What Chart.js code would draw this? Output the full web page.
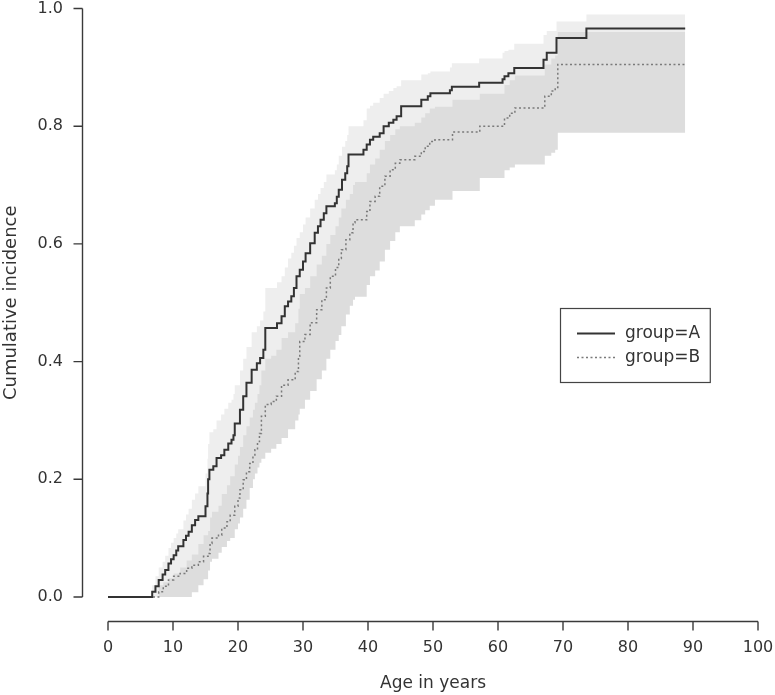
<!DOCTYPE html>
<html><head><meta charset="utf-8">
<script src="https://cdn.jsdelivr.net/npm/chart.js@4/dist/chart.umd.min.js"></script>
<style>
html,body{margin:0;padding:0;background:#fff;overflow:hidden;width:775px;height:695px;}
#wrap{position:absolute;left:0;top:-15px;}
</style></head><body>
<div id="wrap"><canvas id="c" width="784" height="710"></canvas></div>
<script>
const xTickValues = [0,10,20,30,40,50,60,70,80,90,100];
const yTickValues = [0,0.2,0.4,0.6,0.8,1.0];
const xTitle = 'Age in years';
const yTitle = 'Cumulative incidence';
const groupLabels = ['group=A','group=B'];

const ageA = [0,6.8,7.3,7.8,8.4,8.8,9.3,9.7,10.1,10.5,10.8,11.6,12.0,12.4,12.9,13.4,13.9,15.0,15.3,15.4,15.6,16.2,16.7,17.4,17.9,18.5,19.0,19.3,19.5,20.3,20.8,21.3,22.1,22.9,23.4,23.9,24.2,26.0,26.7,27.2,27.7,28.2,28.6,29.0,29.5,30.0,30.4,31.1,31.8,32.3,32.7,33.2,33.6,34.9,35.2,35.5,36.0,36.5,36.8,37.0,39.3,39.8,40.3,40.8,41.8,42.4,43.2,43.9,44.4,45.1,48.2,49.2,49.6,52.6,52.9,57.1,60.7,61.0,61.6,62.5,67.0,67.5,69.0,73.6,88.8];
const cumA = [0,0.009,0.018,0.029,0.038,0.046,0.057,0.064,0.071,0.079,0.086,0.097,0.104,0.111,0.122,0.131,0.137,0.154,0.176,0.2,0.216,0.222,0.236,0.241,0.25,0.261,0.267,0.275,0.295,0.318,0.341,0.364,0.386,0.397,0.406,0.42,0.457,0.465,0.477,0.494,0.502,0.511,0.525,0.545,0.556,0.57,0.584,0.601,0.619,0.63,0.641,0.652,0.664,0.669,0.68,0.692,0.709,0.72,0.732,0.752,0.76,0.769,0.777,0.782,0.788,0.8,0.806,0.811,0.817,0.834,0.845,0.851,0.856,0.861,0.867,0.874,0.88,0.885,0.89,0.899,0.913,0.925,0.95,0.966,0.966];
const upperA = [0,0.02,0.035,0.05,0.06,0.07,0.083,0.092,0.1,0.108,0.115,0.13,0.14,0.15,0.165,0.176,0.188,0.21,0.235,0.26,0.28,0.285,0.3,0.31,0.32,0.33,0.335,0.345,0.36,0.385,0.405,0.425,0.45,0.46,0.47,0.485,0.525,0.535,0.545,0.56,0.575,0.585,0.597,0.61,0.62,0.633,0.645,0.66,0.675,0.685,0.695,0.705,0.718,0.725,0.735,0.75,0.765,0.775,0.785,0.8,0.81,0.83,0.835,0.84,0.848,0.855,0.86,0.865,0.868,0.878,0.888,0.89,0.893,0.9,0.907,0.915,0.925,0.928,0.93,0.94,0.955,0.962,0.978,0.99,0.99];
const lowerA = [0,0,0,0.003,0.008,0.012,0.018,0.022,0.026,0.03,0.035,0.042,0.048,0.053,0.06,0.066,0.07,0.085,0.09,0.1,0.108,0.12,0.13,0.14,0.15,0.16,0.168,0.175,0.19,0.21,0.235,0.255,0.275,0.288,0.298,0.31,0.345,0.352,0.362,0.378,0.385,0.394,0.405,0.425,0.435,0.45,0.46,0.478,0.495,0.505,0.517,0.528,0.54,0.545,0.556,0.568,0.585,0.595,0.608,0.63,0.64,0.65,0.66,0.665,0.672,0.685,0.692,0.698,0.705,0.725,0.74,0.745,0.752,0.758,0.765,0.775,0.782,0.79,0.795,0.805,0.825,0.84,0.875,0.9,0.9];

const ageB = [0,7.8,8.5,9.3,10.1,11.1,12.1,12.9,13.9,14.7,15.4,15.7,16.0,17.0,17.5,18.3,18.8,19.5,20.0,20.3,20.8,21.3,21.8,22.3,22.6,23.0,23.3,23.6,24.2,25.1,25.9,26.7,27.7,28.8,29.3,29.5,30.3,31.1,32.1,32.9,33.6,34.2,35.0,35.5,35.9,36.6,37.2,37.7,38.0,39.8,40.3,41.1,41.8,42.6,43.4,44.2,44.9,47.2,48.2,48.8,49.5,50.3,53.0,57.2,61.0,61.8,62.6,67.2,68.2,68.8,69.2,88.8];
const cumB = [0,0.009,0.018,0.029,0.035,0.04,0.049,0.054,0.06,0.069,0.074,0.091,0.1,0.105,0.117,0.128,0.139,0.154,0.168,0.182,0.199,0.213,0.227,0.239,0.25,0.264,0.278,0.307,0.327,0.332,0.341,0.36,0.369,0.383,0.409,0.434,0.446,0.466,0.488,0.505,0.525,0.545,0.56,0.575,0.59,0.607,0.619,0.636,0.641,0.655,0.672,0.681,0.698,0.715,0.726,0.737,0.743,0.749,0.757,0.766,0.774,0.777,0.79,0.8,0.814,0.822,0.831,0.851,0.86,0.866,0.905,0.905];
const upperB = [0,0.02,0.025,0.032,0.04,0.05,0.062,0.072,0.09,0.105,0.112,0.135,0.145,0.155,0.175,0.19,0.205,0.225,0.24,0.255,0.275,0.29,0.305,0.318,0.33,0.345,0.36,0.385,0.405,0.41,0.42,0.44,0.45,0.465,0.49,0.515,0.525,0.545,0.565,0.58,0.6,0.615,0.63,0.645,0.66,0.675,0.685,0.7,0.705,0.72,0.735,0.745,0.76,0.775,0.785,0.795,0.8,0.806,0.815,0.822,0.83,0.833,0.845,0.855,0.87,0.878,0.886,0.905,0.915,0.92,0.96,0.96];
const lowerB = [0,0,0,0,0,0,0,0.008,0.02,0.03,0.045,0.06,0.065,0.075,0.085,0.095,0.1,0.115,0.125,0.135,0.15,0.165,0.185,0.2,0.21,0.22,0.228,0.235,0.245,0.252,0.26,0.27,0.285,0.3,0.31,0.32,0.335,0.35,0.37,0.385,0.405,0.42,0.435,0.445,0.46,0.48,0.495,0.505,0.51,0.53,0.545,0.555,0.57,0.59,0.605,0.62,0.63,0.64,0.65,0.657,0.665,0.675,0.69,0.712,0.725,0.73,0.735,0.75,0.755,0.76,0.789,0.789];

const FONT = 'DejaVu Sans';
const AXIS_COLOR = '#3a3a3a';
const pts = (xs, ys) => xs.map((x, i) => ({x: x, y: ys[i]}));
const bandStyle = (fill, color) => ({
  fill: fill, backgroundColor: color, borderColor: 'rgba(0,0,0,0)', borderWidth: 1,
  pointRadius: 0, stepped: true, tension: 0
});
const zeroPad = s => { s.paddingTop = 0; s.paddingBottom = 0; s.paddingLeft = 0; s.paddingRight = 0; };

const axesAndLegend = {
  id: 'axesAndLegend',
  afterDraw(chart) {
    const ctx = chart.ctx, xs = chart.scales.x, ys = chart.scales.y;
    const ax = Math.round(xs.getPixelForValue(-4)) + 0.5;
    const ay = Math.round(ys.getPixelForValue(-0.04)) + 0.5;
    const tick = 9;
    ctx.save();
    ctx.strokeStyle = AXIS_COLOR; ctx.lineWidth = 1.4; ctx.setLineDash([]);
    ctx.beginPath();
    ctx.moveTo(ax, ys.getPixelForValue(yTickValues[0]));
    ctx.lineTo(ax, ys.getPixelForValue(yTickValues[yTickValues.length-1]));
    yTickValues.forEach(v => { const p = ys.getPixelForValue(v); ctx.moveTo(ax, p); ctx.lineTo(ax - tick, p); });
    ctx.moveTo(xs.getPixelForValue(xTickValues[0]), ay);
    ctx.lineTo(xs.getPixelForValue(xTickValues[xTickValues.length-1]), ay);
    xTickValues.forEach(v => { const p = xs.getPixelForValue(v); ctx.moveTo(p, ay); ctx.lineTo(p, ay + tick); });
    ctx.stroke();

    // legend
    ctx.font = '17px "' + FONT + '"';
    const tw = Math.max(...groupLabels.map(t => ctx.measureText(t).width));
    const bx = 560.5, by = 308.5 + 15, textX = 625;
    const bw = textX + tw + 10 - bx, bh = 74;
    ctx.lineWidth = 1.2; ctx.strokeStyle = '#444';
    ctx.strokeRect(bx, by, bw, bh);
    const rows = [by + 25, by + 49];
    ctx.lineWidth = 2; ctx.strokeStyle = '#333';
    ctx.beginPath(); ctx.moveTo(577, rows[0]); ctx.lineTo(615, rows[0]); ctx.stroke();
    ctx.lineWidth = 1.5; ctx.strokeStyle = '#7a7a7a'; ctx.setLineDash([2, 2.5]);
    ctx.beginPath(); ctx.moveTo(577, rows[1]); ctx.lineTo(615, rows[1]); ctx.stroke();
    ctx.setLineDash([]);
    ctx.fillStyle = '#333'; ctx.textAlign = 'left'; ctx.textBaseline = 'middle';
    groupLabels.forEach((t, i) => ctx.fillText(t, textX, rows[i]));
    ctx.restore();
  }
};

new Chart(document.getElementById('c'), {
  type: 'line',
  data: {
    datasets: [
      {label: groupLabels[0], data: pts(ageA, cumA), borderColor: '#333', borderWidth: 2, pointRadius: 0, stepped: true, fill: false},
      {label: groupLabels[1], data: pts(ageB, cumB), borderColor: '#7a7a7a', borderWidth: 1.5, borderDash: [2, 2.5], pointRadius: 0, stepped: true, fill: false},
      Object.assign({label: 'B upper', data: pts(ageB, upperB)}, bandStyle('+1', '#dddddd')),
      Object.assign({label: 'B lower', data: pts(ageB, lowerB)}, bandStyle(false, '#dddddd')),
      Object.assign({label: 'A upper', data: pts(ageA, upperA)}, bandStyle('+1', '#eeeeee')),
      Object.assign({label: 'A lower', data: pts(ageA, lowerA)}, bandStyle(false, '#eeeeee'))
    ]
  },
  options: {
    responsive: false, animation: false, devicePixelRatio: 1,
    layout: {padding: 0},
    plugins: {legend: {display: false}, tooltip: {enabled: false}, filler: {propagate: false}},
    scales: {
      x: {
        type: 'linear', min: -4, max: 104,
        afterBuildTicks: s => { s.ticks = xTickValues.map(v => ({value: v})); },
        afterFit: s => { s.height = 74.5; zeroPad(s); },
        grid: {display: false, drawTicks: false}, border: {display: false},
        ticks: {padding: 18, color: '#333', font: {family: FONT, size: 16}, maxRotation: 0, autoSkip: false, callback: v => String(v)},
        title: {display: true, text: xTitle, color: '#333', font: {family: FONT, size: 17}, padding: {top: 0, bottom: 1}}
      },
      y: {
        type: 'linear', min: -0.04, max: 1.04,
        afterBuildTicks: s => { s.ticks = yTickValues.map(v => ({value: v})); },
        afterFit: s => { s.width = 82; zeroPad(s); },
        grid: {display: false, drawTicks: false}, border: {display: false},
        ticks: {padding: 19, color: '#333', font: {family: FONT, size: 16}, autoSkip: false, callback: v => Number(v).toFixed(1)},
        title: {display: true, text: yTitle, color: '#333', font: {family: FONT, size: 18}, padding: {top: 1, bottom: 0}}
      }
    }
  },
  plugins: [axesAndLegend]
});
</script>
</body></html>
